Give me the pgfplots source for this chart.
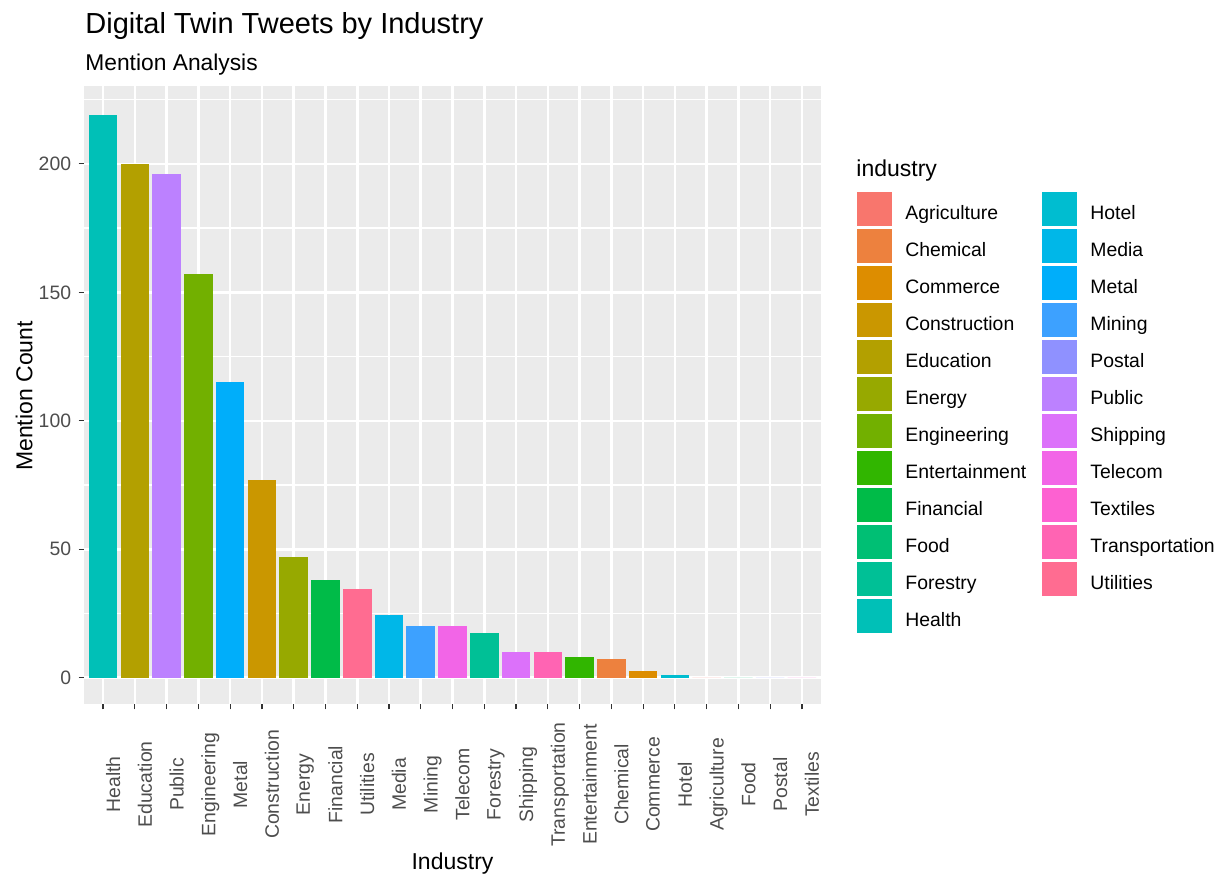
\documentclass[border=0pt]{standalone}
\usepackage{fontspec}
\setmainfont{Liberation Sans}
\usepackage{pgfplots}
\pgfplotsset{compat=1.18}
\definecolor{panelbg}{HTML}{EBEBEB}
\definecolor{gray20}{HTML}{333333}
\definecolor{gray30}{HTML}{4D4D4D}
\definecolor{cAgriculture}{HTML}{F8766D}
\definecolor{cChemical}{HTML}{ED813E}
\definecolor{cCommerce}{HTML}{DD8D00}
\definecolor{cConstruction}{HTML}{CA9700}
\definecolor{cEducation}{HTML}{B3A000}
\definecolor{cEnergy}{HTML}{97A900}
\definecolor{cEngineering}{HTML}{72B000}
\definecolor{cEntertainment}{HTML}{31B600}
\definecolor{cFinancial}{HTML}{00BB48}
\definecolor{cFood}{HTML}{00BF74}
\definecolor{cForestry}{HTML}{00C096}
\definecolor{cHealth}{HTML}{00C0B7}
\definecolor{cHotel}{HTML}{00BDD0}
\definecolor{cMedia}{HTML}{00B7E8}
\definecolor{cMetal}{HTML}{00AEFA}
\definecolor{cMining}{HTML}{3DA1FF}
\definecolor{cPostal}{HTML}{8F91FF}
\definecolor{cPublic}{HTML}{BC81FF}
\definecolor{cShipping}{HTML}{DC71FA}
\definecolor{cTelecom}{HTML}{F265E7}
\definecolor{cTextiles}{HTML}{FD61D1}
\definecolor{cTransportation}{HTML}{FF64B3}
\definecolor{cUtilities}{HTML}{FF6C91}
\pgfplotsset{bar/.style={ybar, bar width=0.9, bar shift=0pt, draw=none, fill=#1}}
\begin{document}
\begin{tikzpicture}
\path[use as bounding box] (0,0) rectangle (612.5pt,438pt);
\begin{axis}[
  at={(42pt,86pt)}, anchor=south west,
  scale only axis, width=368.5pt, height=309pt,
  xmin=0.4, xmax=23.6, ymin=-10.2, ymax=230.3,
  axis background/.style={fill=panelbg},
  axis line style={draw=none},
  xtick={1,...,23},
  xticklabels={Health,Education,Public,Engineering,Metal,Construction,Energy,Financial,Utilities,Media,Mining,Telecom,Forestry,Shipping,Transportation,Entertainment,Chemical,Commerce,Hotel,Agriculture,Food,Postal,Textiles},
  ytick={0,50,100,150,200},
  minor ytick={25,75,125,175,225},
  grid=both,
  major grid style={white, line width=1.3pt},
  minor grid style={white, line width=0.65pt},
  tick align=outside,
  tick pos=left,
  major tick length=2.75pt,
  minor tick length=0pt,
  tick style={color=gray20, line width=0.6pt},
  /pgf/number format/assume math mode=true,
  ticklabel style={font=\fontsize{9.7}{11}\selectfont, text=gray30},
  yticklabel style={anchor=east, inner sep=0pt, xshift=-3.5pt},
  xticklabel style={inner sep=0pt, yshift=-37.5pt, xshift=1.25pt, rotate=90, anchor=north},
  clip=false,
]
\addplot[bar=cHealth] coordinates {(1,219)};
\addplot[bar=cEducation] coordinates {(2,200)};
\addplot[bar=cPublic] coordinates {(3,196)};
\addplot[bar=cEngineering] coordinates {(4,157)};
\addplot[bar=cMetal] coordinates {(5,115)};
\addplot[bar=cConstruction] coordinates {(6,77)};
\addplot[bar=cEnergy] coordinates {(7,47)};
\addplot[bar=cFinancial] coordinates {(8,38)};
\addplot[bar=cUtilities] coordinates {(9,34.5)};
\addplot[bar=cMedia] coordinates {(10,24.5)};
\addplot[bar=cMining] coordinates {(11,20)};
\addplot[bar=cTelecom] coordinates {(12,20)};
\addplot[bar=cForestry] coordinates {(13,17.6)};
\addplot[bar=cShipping] coordinates {(14,10)};
\addplot[bar=cTransportation] coordinates {(15,10)};
\addplot[bar=cEntertainment] coordinates {(16,8)};
\addplot[bar=cChemical] coordinates {(17,7.3)};
\addplot[bar=cCommerce] coordinates {(18,2.5)};
\addplot[bar=cHotel] coordinates {(19,1.2)};
\addplot[bar=cAgriculture] coordinates {(20,0)};
\addplot[bar=cFood] coordinates {(21,0)};
\addplot[bar=cPostal] coordinates {(22,0)};
\addplot[bar=cTextiles] coordinates {(23,0)};
\end{axis}
% titles
\node[anchor=base west, inner sep=0pt, font=\fontsize{14.5}{17}\selectfont] at (42.5pt,421.35pt) {Digital Twin Tweets by Industry};
\node[anchor=base west, inner sep=0pt, font=\fontsize{11.4}{13}\selectfont] at (42.5pt,402.5pt) {Mention Analysis};
\node[anchor=base, inner sep=0pt, rotate=90, font=\fontsize{11.5}{13}\selectfont] at (16.15pt,240pt) {Mention Count};
\node[anchor=base, inner sep=0pt, font=\fontsize{11.5}{13}\selectfont] at (226.25pt,3pt) {Industry};
% legend
\node[anchor=base west, inner sep=0pt, font=\fontsize{11.5}{13}\selectfont] at (428pt,349.5pt) {industry};
\foreach \n [count=\i from 0] in {Agriculture,Chemical,Commerce,Construction,Education,Energy,Engineering,Entertainment,Financial,Food,Forestry,Health} {
  \fill[c\n] (428.5pt,{341.85pt-18.5pt*\i}) rectangle ++(17.5pt,-17pt);
  \node[anchor=base west, inner sep=0pt, font=\fontsize{9.7}{11}\selectfont] at (452.5pt,{328.35pt-18.5pt*\i}) {\n};
}
\foreach \n [count=\i from 0] in {Hotel,Media,Metal,Mining,Postal,Public,Shipping,Telecom,Textiles,Transportation,Utilities} {
  \fill[c\n] (521pt,{341.85pt-18.5pt*\i}) rectangle ++(17.5pt,-17pt);
  \node[anchor=base west, inner sep=0pt, font=\fontsize{9.7}{11}\selectfont] at (545pt,{328.35pt-18.5pt*\i}) {\n};
}
\end{tikzpicture}
\end{document}
